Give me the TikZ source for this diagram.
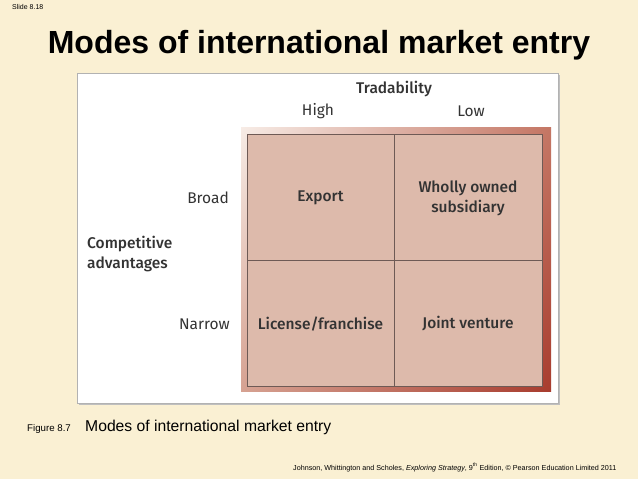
\documentclass[tikz,border=0pt]{standalone}
\usepackage{fontspec}
\usetikzlibrary{shadings}
\setmainfont{Liberation Sans}
\newfontfamily\dinfont[BoldFont={Fira Sans Medium}]{Fira Sans}
\definecolor{slidebg}{HTML}{FAF0D3}
\definecolor{cellfill}{HTML}{DDBAAB}
\definecolor{cellline}{HTML}{6E5A55}
\definecolor{txtgray}{HTML}{333333}
\definecolor{frUL}{RGB}{247,236,230}
\definecolor{frUR}{RGB}{196,118,100}
\definecolor{frLL}{RGB}{214,162,146}
\definecolor{frLR}{RGB}{168,60,46}
\tikzset{
  lbl/.style={font=\dinfont\fontsize{15.5}{17}\selectfont, text=txtgray, inner sep=0pt},
  blbl/.style={font=\dinfont\bfseries\fontsize{15.5}{20}\selectfont, text=txtgray, inner sep=0pt, align=center},
  cell/.style={draw=cellline, line width=0.9pt, fill=cellfill}
}
\begin{document}
\begin{tikzpicture}[x=1pt,y=-1pt]
\useasboundingbox (0,0) rectangle (638,479);
\fill[slidebg] (0,0) rectangle (638,479);
% slide number
\node[anchor=west, inner sep=0pt, font=\fontsize{7}{8}\selectfont] (slide) at (12,7) {Slide 8.18};
% title
\node[inner sep=0pt, font=\bfseries\fontsize{32}{36}\selectfont] (title) at (319,45) {Modes of international market entry};
% white panel
\fill[black!25] (79,75) rectangle (560,405);
\draw[fill=white, draw=black!30, line width=1pt] (77,73) rectangle (558,403);
% shaded frame
\shade[upper left=frUL, upper right=frUR, lower left=frLL, lower right=frLR]
  (241,127) rectangle (551,391);
% cells
\node[cell, minimum width=147pt, minimum height=126pt, inner sep=0pt] (c11) at (320.5,197) {};
\node[cell, minimum width=148pt, minimum height=126pt, inner sep=0pt] (c12) at (468,197) {};
\node[cell, minimum width=147pt, minimum height=126pt, inner sep=0pt] (c21) at (320.5,323) {};
\node[cell, minimum width=148pt, minimum height=126pt, inner sep=0pt] (c22) at (468,323) {};
\node[blbl] (export) at (320.5,198) {Export};
\node[blbl] (wos) at (468,198) {Wholly owned\\subsidiary};
\node[blbl] (lic) at (320.5,324) {License/franchise};
\node[blbl] (jv) at (468,324) {Joint venture};
% axis labels
\node[blbl] (trad) at (394,89) {Tradability};
\node[lbl] (high) at (318,111) {High};
\node[lbl] (low) at (471,111) {Low};
\node[lbl, anchor=east] (broad) at (229,198) {Broad};
\node[lbl, anchor=east] (narrow) at (230,324) {Narrow};
\node[blbl, anchor=west, align=left] (comp) at (87,254) {Competitive\\advantages};
% caption
\node[anchor=base west, inner sep=0pt, font=\fontsize{9.7}{10}\selectfont] (fig) at (27,431) {Figure 8.7};
\node[anchor=base west, inner sep=0pt, font=\fontsize{15.7}{18}\selectfont] (cap) at (85,431) {Modes of international market entry};
% footer
\node[anchor=base west, inner sep=0pt, font=\fontsize{7.2}{8}\selectfont] (foot) at (293,470)
  {Johnson, Whittington and Scholes, \textit{Exploring Strategy}, 9\textsuperscript{th} Edition, \textcopyright\ Pearson Education Limited 2011};
\end{tikzpicture}
\end{document}
